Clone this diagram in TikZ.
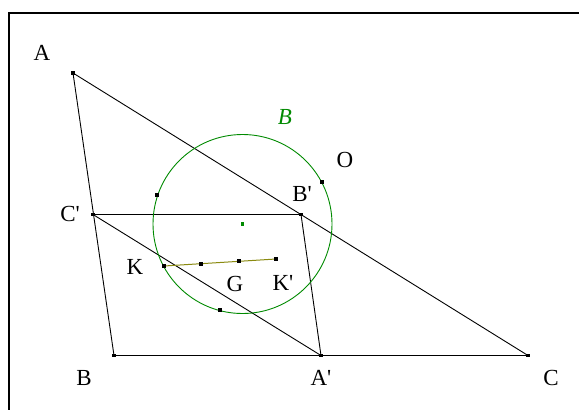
\documentclass[tikz,border=0pt]{standalone}
\usepackage{fontspec}
\setmainfont{Liberation Serif}
\usetikzlibrary{calc,positioning}
\definecolor{circgreen}{HTML}{008A00}
\definecolor{segolive}{HTML}{8A8A10}
\tikzset{
  lbl/.style={font=\fontsize{23}{26}\selectfont,inner sep=1pt},
  lblw/.style={lbl,fill=white},
  edge/.style={black,line width=0.9pt},
}
\newcommand{\dotsq}[2][black]{% [colour]{coordinate}
  \fill[#1] ($(#2)+(-1.9,-1.9)$) rectangle ($(#2)+(1.9,1.9)$);
}
\newcommand{\pr}{\textquotesingle}

\begin{document}
\begin{tikzpicture}[x=1pt,y=-1pt]
  \useasboundingbox (0,0) rectangle (579,410);
  % Frame
  \draw[line width=1.6pt] (9,410) -- (9,13) -- (579,13);
  % Points
  \coordinate (A) at (73,73);
  \coordinate (B) at (114,355.5);
  \coordinate (C) at (528,355.5);
  \coordinate (A1) at (321,355.5);
  \coordinate (B1) at (301,214.5);
  \coordinate (C1) at (93,214.5);
  \coordinate (O) at (242.5,224);
  \coordinate (P1) at (157,195);
  \coordinate (P2) at (322,182);
  \coordinate (P3) at (220,310);
  \coordinate (K) at (164,266);
  \coordinate (K1) at (276,259);
  \coordinate (M) at ($(K)!1/3!(K1)$);
  \coordinate (G) at ($(K)!2/3!(K1)$);
  % Triangle and medial lines
  \draw[edge] (A) -- (B) -- (C) -- cycle;
  \draw[edge] (C1) -- (B1) -- (A1) -- cycle;
  % Circle
  \draw[circgreen,line width=0.9pt] (O) circle (89.5);
  % Segment KK'
  \draw[segolive,line width=1pt] (K) -- (K1);
  % Labels
  \node[lbl] at (42,53) {A};
  \node[lbl] at (84,378) {B};
  \node[lbl] at (551,378) {C};
  \node[lbl] at (321,378) {A\pr};
  \node[lblw] at (302,194) {B\pr};
  \node[lbl] at (70,214) {C\pr};
  \node[lbl] at (345,160) {O};
  \node[lbl] at (135,267) {K};
  \node[lblw] at (235,284) {G};
  \node[lbl] at (283,283) {K\pr};
  \node[lbl,circgreen,font=\fontsize{23}{26}\selectfont\itshape] at (285,117) {B};
  % Dots
  \foreach \p in {A,B,C,A1,B1,C1,P1,P2,P3,K,M,G,K1}
    {\dotsq{\p}}
  \dotsq[circgreen]{O}
\end{tikzpicture}
\end{document}
